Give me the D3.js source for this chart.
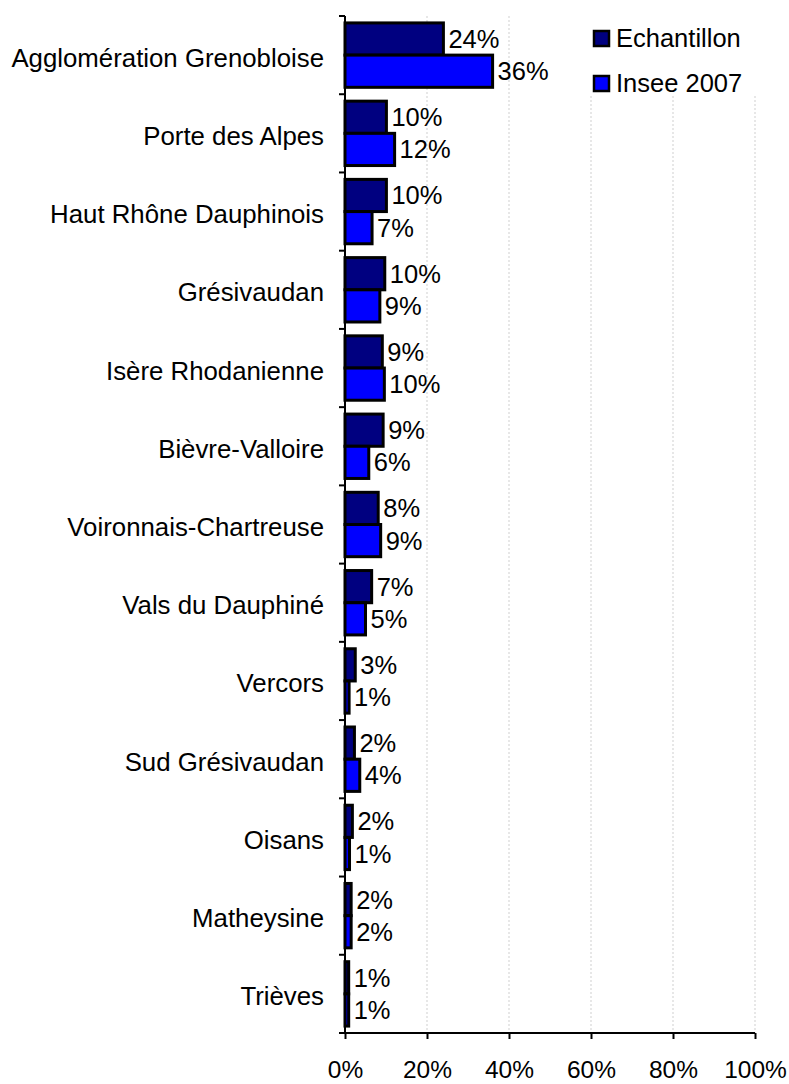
<!DOCTYPE html>
<html><head><meta charset="utf-8">
<script src="https://cdn.jsdelivr.net/npm/d3@7"></script>
<style>html,body{margin:0;padding:0;background:#fff}svg{display:block;font-family:Arial,"Liberation Sans",sans-serif}</style>
</head><body>
<svg id="c" width="789" height="1084"></svg>
<script>
const categories = ["Agglomération Grenobloise","Porte des Alpes","Haut Rhône Dauphinois","Grésivaudan","Isère Rhodanienne","Bièvre-Valloire","Voironnais-Chartreuse","Vals du Dauphiné","Vercors","Sud Grésivaudan","Oisans","Matheysine","Trièves"];
const seriesNames = ["Echantillon","Insee 2007"];
const echantillon = [24, 10.1, 10.1, 9.7, 9.1, 9.3, 8.1, 6.5, 2.5, 2.3, 1.8, 1.5, 0.9];
const insee2007 = [36, 12.1, 6.6, 8.5, 9.6, 5.8, 8.7, 5.0, 1.0, 3.6, 1.1, 1.5, 0.9];
const xTicks = [0, 20, 40, 60, 80, 100];
const colors = ["#000080", "#0000ff"];

const svg = d3.select("#c");
const x = d3.scaleLinear().domain([0, 100]).range([345, 755]);
const y = d3.scaleBand().domain(categories).range([16, 1033]).padding(0);
const ySub = d3.scaleBand().domain(seriesNames).range([0, y.bandwidth()]).paddingInner(0).paddingOuter(0.215);

// gridlines
svg.append("g").selectAll("line").data(xTicks.slice(1)).join("line")
  .attr("x1", d => x(d)).attr("x2", d => x(d))
  .attr("y1", 16).attr("y2", 1033)
  .attr("stroke", "#cfcfcf").attr("stroke-width", 1).attr("stroke-dasharray", "2,2");

// legend background
const lg = svg.append("g");
lg.append("rect").attr("x", 585).attr("y", 10).attr("width", 190).attr("height", 86).attr("fill", "#fff");

const rows = categories.map((c, i) => ({cat: c, vals: [echantillon[i], insee2007[i]]}));
const g = svg.append("g").selectAll("g").data(rows).join("g")
  .attr("transform", d => `translate(0,${y(d.cat)})`);

g.selectAll("rect").data(d => d.vals.map((v, j) => ({v, s: seriesNames[j], j}))).join("rect")
  .attr("x", x(0)).attr("y", d => ySub(d.s))
  .attr("width", d => x(d.v) - x(0)).attr("height", ySub.bandwidth())
  .attr("fill", d => colors[d.j]).attr("stroke", "#000").attr("stroke-width", 3);

g.selectAll("text").data(d => d.vals.map((v, j) => ({v, s: seriesNames[j]}))).join("text")
  .attr("x", d => x(d.v) + 5).attr("y", d => ySub(d.s) + ySub.bandwidth() / 2 + 9)
  .attr("font-size", 25.5).attr("fill", "#000")
  .text(d => Math.round(d.v) + "%");

// category labels
svg.append("g").selectAll("text").data(categories).join("text")
  .attr("x", 324).attr("y", d => y(d) + y.bandwidth() / 2 + 11.5)
  .attr("text-anchor", "end").attr("font-size", 25.8).attr("fill", "#000")
  .text(d => d);

// y axis
const ya = svg.append("g");
ya.append("line").attr("x1", 345).attr("x2", 345).attr("y1", 16).attr("y2", 1033).attr("stroke", "#000").attr("stroke-width", 2);
const bounds = categories.map(c => y(c)).concat([1033]);
ya.selectAll("line.t").data(bounds).join("line").attr("class", "t")
  .attr("x1", 339).attr("x2", 345).attr("y1", d => d).attr("y2", d => d)
  .attr("stroke", "#000").attr("stroke-width", 2);

// x axis
const xa = svg.append("g").attr("transform", "translate(0,1033)")
  .call(d3.axisBottom(x).tickValues(xTicks).tickFormat(d => d + "%").tickSize(6).tickPadding(22));
xa.select(".domain").attr("stroke", "#000").attr("stroke-width", 2).attr("d", `M${x(0)},0H${x(100)}`);
xa.selectAll(".tick line").attr("stroke", "#000").attr("stroke-width", 2);
xa.selectAll(".tick text").attr("font-size", 24.5).attr("font-family", "Arial, 'Liberation Sans', sans-serif").attr("fill", "#000");

// legend
const li = lg.selectAll("g").data(seriesNames).join("g")
  .attr("transform", (d, i) => `translate(0,${i * 45})`);
li.append("rect").attr("x", 594).attr("y", 31).attr("width", 15).attr("height", 15)
  .attr("fill", (d, i) => colors[i]).attr("stroke", "#000").attr("stroke-width", 2.5);
li.append("text").attr("x", 616).attr("y", 47).attr("font-size", 25.5).attr("fill", "#000").text(d => d);
</script>
</body></html>
